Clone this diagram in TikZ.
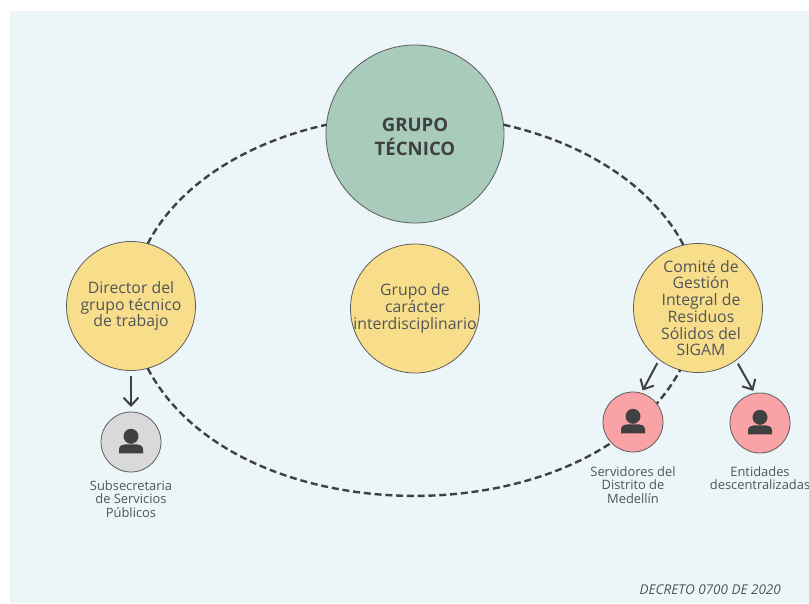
\documentclass[tikz,border=0pt]{standalone}
\usepackage{fontspec}
\setmainfont{Open Sans}
\usetikzlibrary{arrows.meta}
\definecolor{panelbg}{HTML}{ECF5F7}
\definecolor{maingreen}{HTML}{A8CBBC}
\definecolor{softyellow}{HTML}{F8DE8B}
\definecolor{softpink}{HTML}{F9A3A6}
\definecolor{softgray}{HTML}{D9D9D9}
\definecolor{inkgray}{HTML}{404040}
\definecolor{textgray}{HTML}{50555A}
\tikzset{
    bubble/.style={circle, draw=inkgray!85, line width=0.8pt, inner sep=0pt, outer sep=0pt, align=center, text=textgray},
    yellowbubble/.style={bubble, fill=softyellow, minimum size=129pt, font=\fontsize{15.8}{16.7}\selectfont},
    personbubble/.style={bubble, minimum size=60pt},
    caption/.style={align=center, text=textgray, inner sep=0pt, font=\fontsize{12.9}{13.2}\selectfont},
    orbit/.style={draw=inkgray, line width=2.4pt, dash pattern=on 7pt off 3.8pt},
    link/.style={draw=inkgray, line width=2pt, -{Straight Barb[length=8pt,width=15pt]}},
    person/.pic={
        \fill[inkgray] (0,-5.7) circle (7.5);
        \fill[inkgray] (-12,11.3) -- (-12,7.5) .. controls (-12,4) and (-9,2.3) .. (-6,2.3)
            -- (6,2.3) .. controls (9,2.3) and (12,4) .. (12,7.5) -- (12,11.3) -- cycle;
    }
}
\begin{document}
\begin{tikzpicture}[x=1pt, y=-1pt]
    \clip (0,0) rectangle (809,603);
    \fill[panelbg] (10,11) rectangle (809,603);
    % circles of the ring
    \node[bubble, fill=maingreen, minimum size=178pt, text=inkgray, font=\bfseries\fontsize{18.6}{24}\selectfont] (main) at (415,134) {\rule{0pt}{19pt}GRUPO\\TÉCNICO};
    \node[yellowbubble] (director) at (131,306) {Director del\\grupo técnico\\de trabajo};
    \node[yellowbubble] (grupo) at (415,308.5) {Grupo de\\carácter\\\makebox[0pt][c]{interdisciplinario}\rule[-3pt]{0pt}{3pt}};
    \node[yellowbubble] (comite) at (698,308) {};
    \node[align=center, text=textgray, inner sep=0pt, font=\fontsize{15.8}{16.7}\selectfont] (comitetext) at (701,308) {Comité de\\Gestión\\Integral de\\Residuos\\Sólidos del\\SIGAM};
    % dashed ring
    \draw[orbit] (director.75) .. controls +(29,-56) and +(-85,19) .. (main.174);
    \draw[orbit] (main.6) .. controls +(85,19) and +(-29,-56) .. (comite.103);
    \draw[orbit] (director.-75) .. controls +(89,169) and +(-92,169) .. (comite.-106);
    % people
    \node[personbubble, fill=softgray] (subsec) at (131,442) {};
    \node[personbubble, fill=softpink] (servidores) at (633,422) {};
    \node[personbubble, fill=softpink] (entidades) at (760,423) {};
    \foreach \p in {subsec,servidores,entidades} \pic at (\p) {person};
    \draw[link, shorten <=5pt, shorten >=5pt] (director) -- (subsec);
    \draw[link, shorten <=4pt, shorten >=3pt] (comite.-127) -- (servidores.74);
    \draw[link, shorten <=4pt, shorten >=3pt] (comite.-54) -- (entidades.100);
    % captions
    \node[caption] (subseclabel) at (131,499) {Subsecretaria\\de Servicios\\Públicos};
    \node[caption] (servidoreslabel) at (633,485) {Servidores del\\Distrito de\\Medellín};
    \node[caption] (entidadeslabel) at (760,478.5) {Entidades\\descentralizadas};
    \node[caption, font=\itshape\fontsize{13.5}{14}\selectfont, anchor=east] (decreto) at (781,590) {DECRETO 0700 DE 2020};
\end{tikzpicture}
\end{document}
